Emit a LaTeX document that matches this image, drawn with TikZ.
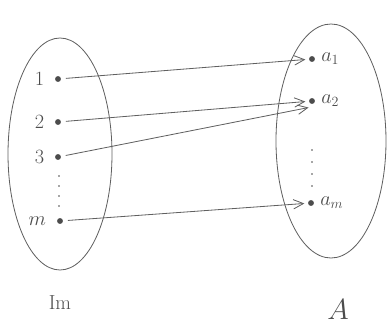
\documentclass[tikz,border=0pt]{standalone}
\usepackage{amsmath,amssymb}
\usetikzlibrary{arrows.meta,positioning}

\begin{document}
\begin{tikzpicture}[
x=0.03cm,y=-0.03cm,
pen/.style={draw=gray!75!black,line width=0.7pt},
pt/.style={circle,fill=gray!60!black,inner sep=0pt,minimum size=5pt},
lbl/.style={text=gray!60!black,font=\LARGE,inner sep=1pt},
arr/.style={pen,-{Straight Barb[length=3mm,width=2.8mm]},shorten <=4pt,shorten >=3pt}]
\useasboundingbox (0,0) rectangle (388,331);
% the two sets
\draw[pen] (60,154) ellipse [x radius=52,y radius=116];
\draw[pen] (331,141) ellipse [x radius=55,y radius=117];
% points of Im
\node[pt] (p1) at (58,79) {};
\node[pt] (p2) at (58,122) {};
\node[pt] (p3) at (58,157) {};
\node[pt] (pm) at (60,221) {};
\node[lbl,left=8pt of p1] {$1$};
\node[lbl,left=8pt of p2] {$2$};
\node[lbl,left=8pt of p3] {$3$};
\node[lbl,left=8pt of pm] {$m$};
\foreach \y in {176,186,196,206}
  \fill[gray!60!black] (59,\y) circle (0.8pt);
\node[lbl] (im) at (60,303) {$\mathrm{Im}$};
% points of A
\node[pt] (a1) at (312,59) {};
\node[pt] (a2) at (312,101) {};
\node[pt] (am) at (311,203) {};
\node[lbl,right=4pt of a1] {$a_1$};
\node[lbl,right=4pt of a2] {$a_2$};
\node[lbl,right=4pt of am] {$a_m$};
\foreach \y in {150,162,174,186}
  \fill[gray!60!black] (312,\y) circle (0.8pt);
\node[lbl,font=\Huge] (aset) at (338,310) {$A$};
% the map
\draw[arr] (p1) -- (a1);
\draw[arr] (p2) -- (a2);
\draw[arr] (p3) -- ([yshift=-5pt]a2.center);
\draw[arr] (pm) -- (am);
\end{tikzpicture}
\end{document}
